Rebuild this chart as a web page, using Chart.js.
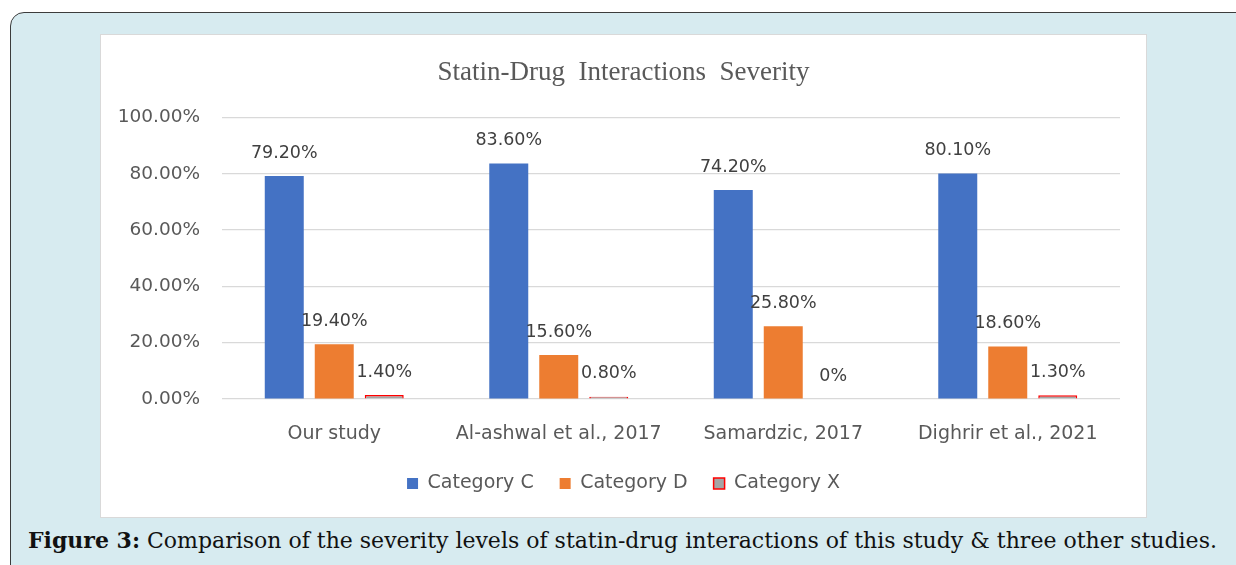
<!DOCTYPE html>
<html>
<head>
<meta charset="utf-8">
<title>Statin-Drug Interactions Severity</title>
<script src="https://cdn.jsdelivr.net/npm/chart.js@4/dist/chart.umd.min.js"></script>
<style>
  html, body { margin: 0; padding: 0; background: #fff; overflow: hidden; }
  body { width: 1236px; height: 565px; position: relative; }
  .frame {
    position: absolute; left: 10px; top: 12px; width: 1240px; height: 620px;
    box-sizing: border-box; border: 1.5px solid #3c3c3c; border-radius: 14px;
    background: #d7ebf0;
  }
  .panel {
    position: absolute; left: 100px; top: 34px; width: 1047px; height: 484px;
    box-sizing: border-box; border: 1px solid #d9d9d9; background: #fff;
  }
  #chart { position: absolute; left: 101px; top: 35px; }
  .caption {
    position: absolute; left: 28px; top: 527px; white-space: nowrap;
    font-family: "DejaVu Serif", serif; font-size: 22px; color: #111;
  }
  .caption b { font-weight: bold; }
</style>
</head>
<body>
<div class="frame"></div>
<div class="panel"></div>
<canvas id="chart" width="1045" height="482"></canvas>
<div class="caption"><b>Figure 3:</b> Comparison of the severity levels of statin-drug interactions of this study &amp; three other studies.</div>

<script>
  // severity shares (%) per study
  const studies = ["Our study", "Al-ashwal et al., 2017", "Samardzic, 2017", "Dighrir et al., 2021"];
  const categoryC = [79.2, 83.6, 74.2, 80.1];
  const categoryD = [19.4, 15.6, 25.8, 18.6];
  const categoryX = [1.4, 0.8, 0, 1.3];
  const yTicks = [0, 20, 40, 60, 80, 100];

  const pct = (v) => (v === 0 ? "0%" : v.toFixed(2) + "%");

  // value labels above every bar
  const barLabels = {
    id: "barLabels",
    afterDatasetsDraw(chart) {
      const ctx = chart.ctx;
      ctx.save();
      ctx.font = '17.5px "DejaVu Sans"';
      ctx.fillStyle = "#404040";
      ctx.textAlign = "center";
      ctx.textBaseline = "middle";
      chart.data.datasets.forEach((ds, i) => {
        chart.getDatasetMeta(i).data.forEach((bar, j) => {
          ctx.fillText(pct(ds.data[j]), bar.x, bar.y - 23);
        });
      });
      ctx.restore();
    },
  };

  new Chart(document.getElementById("chart"), {
    type: "bar",
    data: {
      labels: studies,
      datasets: [
        { label: "Category C", data: categoryC, backgroundColor: "#4472c4", borderColor: "#4472c4", borderWidth: 0 },
        { label: "Category D", data: categoryD, backgroundColor: "#ed7d31", borderColor: "#ed7d31", borderWidth: 0 },
        { label: "Category X", data: categoryX, backgroundColor: "#a5a5a5", borderColor: "#ff0000", borderWidth: 1.5 },
      ],
    },
    options: {
      responsive: false,
      animation: false,
      categoryPercentage: 0.668,
      barPercentage: 0.78,
      layout: { padding: { left: 0, right: 0, top: 0, bottom: 14 } },
      plugins: {
        title: {
          display: true,
          text: "Statin-Drug  Interactions  Severity",
          color: "#595959",
          font: { family: '"Liberation Serif"', size: 27, weight: "normal" },
          padding: { top: 22, bottom: 28 },
        },
        legend: {
          position: "bottom",
          labels: {
            color: "#595959",
            font: { family: '"DejaVu Sans"', size: 19 },
            boxWidth: 11,
            boxHeight: 11,
            padding: 26,
          },
        },
        tooltip: { enabled: false },
      },
      scales: {
        x: {
          grid: { display: false },
          border: { display: false },
          ticks: { color: "#595959", font: { family: '"DejaVu Sans"', size: 19 }, padding: 16 },
          afterFit: (s) => { s.height = 49; },
        },
        y: {
          min: 0,
          max: 100,
          afterBuildTicks: (s) => { s.ticks = yTicks.map((v) => ({ value: v })); },
          grid: { color: "#d9d9d9", lineWidth: 1.2, drawTicks: false },
          border: { display: false },
          ticks: {
            color: "#595959",
            font: { family: '"DejaVu Sans"', size: 18.5 },
            padding: 22,
            callback: (v) => v.toFixed(2) + "%",
          },
          afterFit: (s) => { s.width = 121; },
        },
        // empty right-hand margin so title and legend centre on the whole panel
        yRight: {
          position: "right",
          grid: { display: false },
          border: { display: false },
          ticks: { display: false },
          afterFit: (s) => { s.width = 26; },
        },
      },
    },
    plugins: [barLabels],
  });
</script>
</body>
</html>
